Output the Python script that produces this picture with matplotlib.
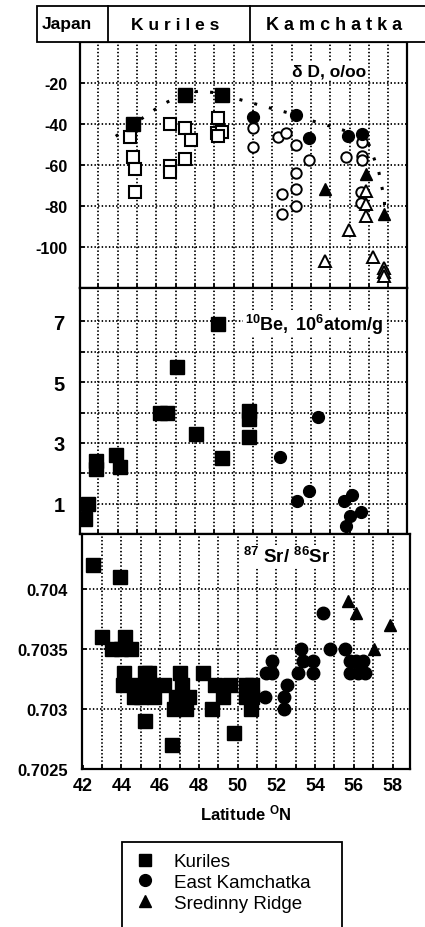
import matplotlib
matplotlib.use('Agg')
import matplotlib.pyplot as plt
from matplotlib.patches import Rectangle
from matplotlib.lines import Line2D

plt.rcParams['font.family'] = ['Liberation Sans', 'DejaVu Sans']
plt.rcParams['axes.unicode_minus'] = False
plt.rcParams['mathtext.fontset'] = 'custom'
plt.rcParams['mathtext.rm'] = 'Liberation Sans'
plt.rcParams['mathtext.bf'] = 'Liberation Sans:bold'
plt.rcParams['mathtext.it'] = 'Liberation Sans:italic'

# ---- dD panel (per mil) ----
kur_dD_lat = [44.8, 47.5, 49.4]
kur_dD = [-40, -26, -26]
kur_dD_open_lat = [44.65, 44.8, 44.9, 44.9, 46.7, 46.7, 46.7, 47.5, 47.8, 47.5,
                   49.2, 49.15, 49.4, 49.2]
kur_dD_open = [-46.5, -56, -62, -73, -40, -60.5, -63.5, -42, -48, -57,
               -37, -44.5, -44, -46]
ek_dD_lat = [51.0, 53.2, 53.9, 55.9, 56.65]
ek_dD = [-36.5, -35.5, -47, -46, -45]
ek_dD_open_lat = [51.0, 51.0, 52.3, 52.7, 53.2, 53.9, 53.2, 53.2, 52.5, 53.2, 52.5,
                  55.8, 56.65, 56.65, 56.65, 56.6, 56.6]
ek_dD_open = [-42, -51, -46.5, -44.5, -50, -57.5, -64, -71.5, -74, -80, -84,
              -56, -49, -55.5, -57.5, -73, -78.5]
sr_dD_lat = [54.7, 56.85, 57.8]
sr_dD = [-71.5, -64.5, -84]
sr_dD_open_lat = [56.85, 56.85, 56.85, 55.95, 54.7, 57.2, 57.8, 57.8, 57.8]
sr_dD_open = [-72.5, -79, -85, -91.5, -107, -105, -110, -112, -114]
env_lat = [43.9, 44.8, 45.3, 46.3, 47.5, 48.2, 49.4, 49.9, 52.0, 53.2, 53.9,
           55.5, 56.65, 57.0, 57.5, 57.8, 57.8]
env_dD = [-46, -40, -37, -30.5, -25, -24, -25, -27, -32.5, -35.5, -38,
          -42.5, -46, -50, -63, -77, -84]

# ---- 10Be panel (10^6 atom/g) ----
kur_be_lat = [49.2, 47.05, 46.2, 46.55, 50.8, 50.8, 50.8, 48.05, 49.4,
              42.9, 42.9, 43.9, 44.1, 42.45, 42.3]
kur_be = [6.9, 5.5, 4.0, 4.0, 4.05, 3.8, 3.2, 3.3, 2.5,
          2.4, 2.15, 2.6, 2.2, 1.0, 0.5]
ek_be_lat = [54.35, 52.4, 53.25, 53.9, 55.7, 56.1, 56.0, 56.6, 55.8]
ek_be = [3.85, 2.55, 1.1, 1.4, 1.1, 1.28, 0.6, 0.72, 0.25]

# ---- 87Sr/86Sr panel ----
kur_sr_lat = [42.52, 43.92, 43.0, 44.18, 43.5, 44.0, 44.49,
              44.13, 45.2, 45.4, 47.0, 48.23,
              44.06, 44.73, 45.52, 46.22, 47.12, 48.81, 49.59, 50.42, 50.74,
              44.64, 45.02, 45.66, 46.84, 47.48, 49.24, 50.42, 50.74,
              46.7, 47.35, 48.7, 50.7, 45.22, 49.79, 46.63]
kur_sr = [0.7042, 0.7041, 0.7036, 0.7036, 0.7035, 0.7035, 0.7035,
          0.7033, 0.7033, 0.7033, 0.7033, 0.7033,
          0.7032, 0.7032, 0.7032, 0.7032, 0.7032, 0.7032, 0.7032, 0.7032, 0.7032,
          0.7031, 0.7031, 0.7031, 0.7031, 0.7031, 0.7031, 0.7031, 0.7031,
          0.7030, 0.7030, 0.7030, 0.7030, 0.7029, 0.7028, 0.7027]
ek_sr_lat = [54.4, 53.28, 54.75, 55.52,
             51.78, 53.36, 53.88, 55.78, 56.13, 56.47,
             51.47, 51.78, 53.1, 53.88, 55.78, 56.21, 56.56,
             52.53, 51.43, 52.37, 52.37]
ek_sr = [0.7038, 0.7035, 0.7035, 0.7035,
         0.7034, 0.7034, 0.7034, 0.7034, 0.7034, 0.7034,
         0.7033, 0.7033, 0.7033, 0.7033, 0.7033, 0.7033, 0.7033,
         0.7032, 0.7031, 0.7031, 0.7030]
srr_sr_lat = [55.69, 56.13, 57.89, 57.03]
srr_sr = [0.7039, 0.7038, 0.7037, 0.7035]

# tick / grid positions
lat_grid = list(range(43, 59))
dD_ticks = [-100, -80, -60, -40, -20]
be_grid = [1, 2, 3, 4, 5, 6, 7]
sr_ticks = [0.7025, 0.703, 0.7035, 0.704]
sr_labels = ['0.7025', '0.703', '0.7035', '0.704']

W, H = 425, 928
fig = plt.figure(figsize=(W / 100, H / 100), dpi=100)

def frac(x0, y0, x1, y1):
    return [x0 / W, 1 - y1 / H, (x1 - x0) / W, (y1 - y0) / H]

ax1 = fig.add_axes(frac(80, 43, 407.3, 289))
ax2 = fig.add_axes(frac(80, 289, 407.3, 535))
ax3 = fig.add_axes(frac(81.7, 535, 410, 770))

gl = dict(color='black', linestyle=(0, (0.8, 1.2)), linewidth=1.3, zorder=1)
mk = dict(linestyle='none', color='black', zorder=3)

def dotted_grid(ax, ys):
    for x in lat_grid:
        ax.axvline(x, **gl)
    for y in ys:
        ax.axhline(y, **gl)

# top: dD
dotted_grid(ax1, dD_ticks)
ax1.plot(env_lat, env_dD, color='black', linestyle=(0, (1, 4)), linewidth=2.2, zorder=2)
ax1.plot(kur_dD_open_lat, kur_dD_open, marker='s', ms=8.5, mfc='white', mew=1.5, **mk)
ax1.plot(ek_dD_open_lat, ek_dD_open, marker='o', ms=7.5, mfc='white', mew=1.4, **mk)
ax1.plot(sr_dD_open_lat, sr_dD_open, marker='^', ms=8.5, mfc='white', mew=1.4, **mk)
ax1.plot(kur_dD_lat, kur_dD, marker='s', ms=10, **mk)
ax1.plot(ek_dD_lat, ek_dD, marker='o', ms=8.5, **mk)
ax1.plot(sr_dD_lat, sr_dD, marker='^', ms=9, **mk)
ax1.set_ylim(-120, 0)
ax1.set_yticks(dD_ticks)
ax1.text(0.761, 0.882, 'δ D, o/oo', transform=ax1.transAxes, ha='center', va='center',
         fontsize=12.5, fontweight='bold', zorder=4,
         bbox=dict(facecolor='white', edgecolor='none', pad=1))

# middle: 10Be
dotted_grid(ax2, be_grid)
ax2.plot(kur_be_lat, kur_be, marker='s', ms=9.5, **mk)
ax2.plot(ek_be_lat, ek_be, marker='o', ms=8.5, **mk)
ax2.set_ylim(0, 8.1)
ax2.set_yticks([1, 3, 5, 7])
ax2.set_yticks([2, 4, 6], minor=True)
ax2.text(0.715, 0.855, r'$\mathbf{{}^{10}Be,\ 10^{6}atom/g}$', transform=ax2.transAxes,
         ha='center', va='center', fontsize=13, zorder=4,
         bbox=dict(facecolor='white', edgecolor='none', pad=1))

# bottom: Sr
dotted_grid(ax3, sr_ticks[1:])
ax3.plot(kur_sr_lat, kur_sr, marker='s', ms=10, **mk)
ax3.plot(ek_sr_lat, ek_sr, marker='o', ms=9, **mk)
ax3.plot(srr_sr_lat, srr_sr, marker='^', ms=9, **mk)
ax3.set_ylim(0.7025, 0.70446)
ax3.set_yticks(sr_ticks)
ax3.set_yticklabels(sr_labels)
ax3.text(0.624, 0.905, r'$\mathbf{{}^{87}\ Sr/\ {}^{86}Sr}$', transform=ax3.transAxes,
         ha='center', va='center', fontsize=13.5, zorder=4,
         bbox=dict(facecolor='white', edgecolor='none', pad=1))
ax3.set_xlabel(r'Latitude $\mathbf{{}^{O}}$N', fontsize=12, fontweight='bold', labelpad=6)

# common axis styling
for ax, ysize, ypad in ((ax1, 11.5, 9), (ax2, 14.5, 11), (ax3, 12, 10)):
    for s in ax.spines.values():
        s.set_linewidth(1.6)
        s.set_zorder(5)
    ax.set_xticks(range(42, 59, 2))
    ax.set_xticks(range(43, 59, 2), minor=True)
    ax.tick_params(which='both', direction='in', length=3, width=1.3)
    ax.tick_params(axis='y', labelsize=ysize, pad=ypad)
    for t in ax.get_yticklabels():
        t.set_fontweight('bold')

ax1.set_xlim(42.05, 58.98)
ax2.set_xlim(42.05, 58.98)
ax3.set_xlim(41.95, 58.9)
for ax in (ax1, ax2):
    ax.tick_params(axis='x', which='both', labelbottom=False)
ax3.tick_params(axis='x', which='major', labelsize=13, pad=6)
for t in ax3.get_xticklabels():
    t.set_fontweight('bold')

# header boxes
fig.add_artist(Rectangle((37 / W, 1 - 43 / H), 1.0, 36 / H, transform=fig.transFigure,
                         facecolor='white', edgecolor='black', linewidth=1.3))
for xd in (107.7, 250):
    fig.add_artist(Line2D([xd / W, xd / W], [1 - 43 / H, 1 - 7 / H],
                          transform=fig.transFigure, color='black', linewidth=1.3))
hdr = dict(ha='center', va='center', fontsize=12.5, fontweight='bold')
fig.text(67 / W, 1 - 25 / H, 'Japan', **hdr)
fig.text(175 / W, 1 - 25 / H, 'K u r i l e s', **hdr)
fig.text(334 / W, 1 - 25 / H, 'K a m c h a t k a', fontsize=13, ha='center',
         va='center', fontweight='bold')

# legend
fig.add_artist(Rectangle((121.7 / W, -0.02), 220 / W, 0.02 + 1 - 842.7 / H,
                         transform=fig.transFigure, facecolor='white',
                         edgecolor='black', linewidth=1.3))
handles = [Line2D([], [], marker='s', ls='none', color='black', ms=8.5),
           Line2D([], [], marker='o', ls='none', color='black', ms=8.5),
           Line2D([], [], marker='^', ls='none', color='black', ms=8.5)]
fig.legend(handles, ['Kuriles', 'East Kamchatka', 'Sredinny Ridge'],
           loc='upper left', bbox_to_anchor=(136 / W, 1 - 854 / H),
           frameon=False, fontsize=13.5, borderpad=0, borderaxespad=0,
           handlelength=1.0, handletextpad=1.0, labelspacing=0.2)

fig.savefig('out.png', dpi=100)
